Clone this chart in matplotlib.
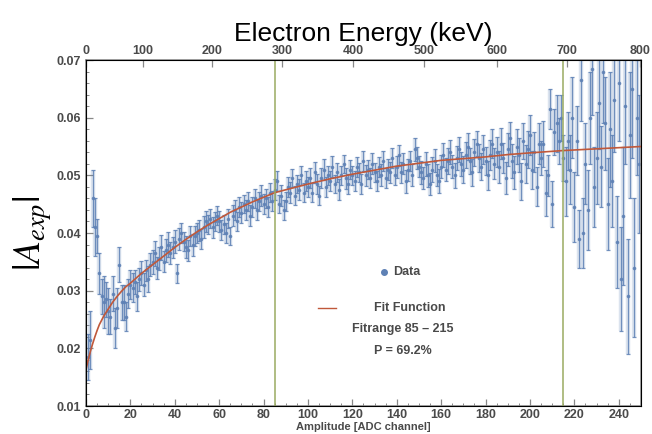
import numpy as np
import matplotlib
matplotlib.use("Agg")
import matplotlib.pyplot as plt

plt.rcParams['font.family'] = ['Liberation Sans', 'DejaVu Sans']
plt.rcParams['mathtext.fontset'] = 'stix'

# ---- data: asymmetry per ADC channel ----
channels = np.arange(1, 250)

asym = [
    0.0185, 0.0215, 0.0460, 0.0410, 0.0395, 0.0330, 0.0290, 0.0280, 0.0285, 0.0265,
    0.0255, 0.0295, 0.0235, 0.0270, 0.0345, 0.0280, 0.0280, 0.0255, 0.0295, 0.0310,
    0.0305, 0.0315, 0.0290, 0.0320, 0.0330, 0.0310, 0.0335, 0.0320, 0.0345, 0.0350,
    0.0365, 0.0340, 0.0355, 0.0375, 0.0350, 0.0370, 0.0380, 0.0365, 0.0375, 0.0385,
    0.0330, 0.0390, 0.0400, 0.0385, 0.0375, 0.0370, 0.0395, 0.0380, 0.0395, 0.0400,
    0.0405, 0.0390, 0.0410, 0.0420, 0.0415, 0.0425, 0.0410, 0.0420, 0.0430, 0.0420,
    0.0405, 0.0415, 0.0400, 0.0425, 0.0395, 0.0430, 0.0440, 0.0420, 0.0445, 0.0435,
    0.0450, 0.0440, 0.0455, 0.0430, 0.0445, 0.0460, 0.0440, 0.0455, 0.0465, 0.0450,
    0.0460, 0.0445, 0.0470, 0.0455, 0.0475, 0.0490, 0.0450, 0.0465, 0.0440, 0.0455,
    0.0480, 0.0470, 0.0495, 0.0465, 0.0485, 0.0475, 0.0500, 0.0470, 0.0490, 0.0480,
    0.0495, 0.0470, 0.0505, 0.0485, 0.0465, 0.0495, 0.0510, 0.0480, 0.0500, 0.0490,
    0.0515, 0.0485, 0.0505, 0.0475, 0.0500, 0.0520, 0.0495, 0.0485, 0.0510, 0.0500,
    0.0490, 0.0515, 0.0505, 0.0485, 0.0525, 0.0500, 0.0510, 0.0495, 0.0520, 0.0505,
    0.0490, 0.0515, 0.0500, 0.0525, 0.0495, 0.0510, 0.0505, 0.0530, 0.0500, 0.0515,
    0.0535, 0.0505, 0.0520, 0.0490, 0.0510, 0.0525, 0.0500, 0.0545, 0.0530, 0.0515,
    0.0505, 0.0495, 0.0520, 0.0500, 0.0485, 0.0510, 0.0525, 0.0500, 0.0490, 0.0515,
    0.0535, 0.0510, 0.0525, 0.0540, 0.0515, 0.0500, 0.0530, 0.0545, 0.0520, 0.0510,
    0.0535, 0.0550, 0.0525, 0.0505, 0.0540, 0.0555, 0.0530, 0.0515, 0.0545, 0.0525,
    0.0500, 0.0535, 0.0555, 0.0520, 0.0540, 0.0515, 0.0555, 0.0530, 0.0495, 0.0545,
    0.0565, 0.0525, 0.0505, 0.0550, 0.0535, 0.0490, 0.0560, 0.0520, 0.0545, 0.0570,
    0.0510, 0.0540, 0.0480, 0.0555, 0.0530, 0.0555, 0.0470, 0.0500, 0.0615, 0.0450,
    0.0575, 0.0590, 0.0560, 0.0600, 0.0530, 0.0490, 0.0560, 0.0510, 0.0600, 0.0445,
    0.0560, 0.0390, 0.0665, 0.0400, 0.0520, 0.0440, 0.0600, 0.0685, 0.0480, 0.0530,
    0.0625, 0.0515, 0.0680, 0.0590, 0.0450, 0.0580, 0.0490, 0.0630, 0.0385, 0.0660,
    0.0320, 0.0430, 0.0620, 0.0290, 0.0570, 0.0650, 0.0340, 0.0600, 0.0520,
]

asym_err = [
    0.0040, 0.0050, 0.0050, 0.0050, 0.0030, 0.0035, 0.0030, 0.0045, 0.0030, 0.0040,
    0.0030, 0.0030, 0.0035, 0.0035, 0.0030, 0.0030, 0.0030, 0.0025, 0.0025, 0.0025,
    0.0025, 0.0020, 0.0025, 0.0020, 0.0021, 0.0020, 0.0019, 0.0022, 0.0020, 0.0021,
    0.0022, 0.0019, 0.0020, 0.0021, 0.0018, 0.0020, 0.0022, 0.0019, 0.0018, 0.0020,
    0.0016, 0.0019, 0.0018, 0.0017, 0.0019, 0.0018, 0.0017, 0.0019, 0.0018, 0.0017,
    0.0018, 0.0017, 0.0019, 0.0018, 0.0016, 0.0017, 0.0018, 0.0017, 0.0016, 0.0018,
    0.0017, 0.0016, 0.0018, 0.0017, 0.0016, 0.0018, 0.0017, 0.0016, 0.0017, 0.0018,
    0.0016, 0.0017, 0.0016, 0.0018, 0.0017, 0.0016, 0.0017, 0.0016, 0.0018, 0.0017,
    0.0016, 0.0017, 0.0016, 0.0017, 0.0018, 0.0017, 0.0016, 0.0018, 0.0017, 0.0016,
    0.0017, 0.0018, 0.0016, 0.0017, 0.0016, 0.0018, 0.0017, 0.0016, 0.0017, 0.0018,
    0.0017, 0.0016, 0.0018, 0.0017, 0.0016, 0.0017, 0.0018, 0.0017, 0.0016, 0.0017,
    0.0018, 0.0016, 0.0017, 0.0018, 0.0017, 0.0016, 0.0018, 0.0017, 0.0016, 0.0017,
    0.0018, 0.0017, 0.0016, 0.0018, 0.0017, 0.0018, 0.0016, 0.0017, 0.0018, 0.0017,
    0.0018, 0.0017, 0.0019, 0.0018, 0.0017, 0.0018, 0.0019, 0.0018, 0.0017, 0.0019,
    0.0018, 0.0019, 0.0018, 0.0020, 0.0019, 0.0018, 0.0019, 0.0020, 0.0019, 0.0018,
    0.0020, 0.0019, 0.0021, 0.0020, 0.0019, 0.0021, 0.0020, 0.0019, 0.0021, 0.0020,
    0.0021, 0.0020, 0.0022, 0.0021, 0.0020, 0.0022, 0.0021, 0.0022, 0.0021, 0.0023,
    0.0022, 0.0023, 0.0022, 0.0024, 0.0023, 0.0022, 0.0024, 0.0023, 0.0025, 0.0024,
    0.0025, 0.0026, 0.0025, 0.0027, 0.0026, 0.0028, 0.0027, 0.0026, 0.0028, 0.0029,
    0.0028, 0.0030, 0.0029, 0.0031, 0.0030, 0.0032, 0.0031, 0.0033, 0.0032, 0.0034,
    0.0033, 0.0035, 0.0034, 0.0036, 0.0030, 0.0040, 0.0040, 0.0035, 0.0035, 0.0040,
    0.0040, 0.0050, 0.0040, 0.0040, 0.0040, 0.0060, 0.0050, 0.0060, 0.0070, 0.0060,
    0.0060, 0.0050, 0.0070, 0.0060, 0.0070, 0.0070, 0.0080, 0.0080, 0.0070, 0.0080,
    0.0080, 0.0070, 0.0090, 0.0080, 0.0080, 0.0100, 0.0080, 0.0090, 0.0080, 0.0100,
    0.0090, 0.0120, 0.0100, 0.0100, 0.0110, 0.0120, 0.0120, 0.0100, 0.0120,
]

# fit curve
fit_x = [0, 1, 2, 3, 4, 5, 6, 8, 10, 12, 14, 16, 18, 20, 25, 30, 35, 40, 45, 50,
         55, 60, 65, 70, 75, 80, 85, 90, 95, 100, 110, 120, 130, 140, 150, 160,
         170, 180, 190, 200, 215, 230, 250]
fit_y = [0.0163, 0.0180, 0.0195, 0.0208, 0.0220, 0.0231, 0.0241, 0.0256, 0.0268,
         0.0280, 0.0290, 0.0299, 0.0307, 0.0313, 0.0330, 0.0345, 0.0360, 0.0375,
         0.0389, 0.0402, 0.0414, 0.0425, 0.0436, 0.0445, 0.0454, 0.0462, 0.0470,
         0.0475, 0.0480, 0.0485, 0.0494, 0.0502, 0.0509, 0.0516, 0.0521, 0.0526,
         0.0529, 0.0532, 0.0536, 0.0539, 0.0543, 0.0546, 0.0550]

fit_range = [85, 215]

# top axis: electron energy ticks and their ADC positions
energy_labels = [0, 100, 200, 300, 400, 500, 600, 700, 800]
energy_pos = [0, 25.7, 56.9, 88.4, 120.4, 152.3, 185.2, 216.7, 249.5]

blue = '#5e81b5'
tick_color = '#4a4a4a'

fig = plt.figure(figsize=(6.52, 4.34), dpi=100)
ax = fig.add_axes([0.1319, 0.0645, 0.8512, 0.7972])

# light wide error bands + thin bars with caps
ax.errorbar(channels, asym, yerr=asym_err, fmt='none', ecolor=blue,
            elinewidth=3.2, alpha=0.22, capsize=0)
ax.errorbar(channels, asym, yerr=asym_err, fmt='o', color=blue, ms=1.6,
            ecolor=blue, elinewidth=0.9, capsize=1.6, capthick=0.9, alpha=0.85)

ax.plot(fit_x, fit_y, color='#c0583a', lw=1.2, zorder=5)

for x in fit_range:
    ax.axvline(x, color='#9aab62', lw=1.1, zorder=6)

ax.set_xlim(0, 250)
ax.set_ylim(0.01, 0.07)
ax.set_xticks(np.arange(0, 250, 20))
ax.set_xticks(np.arange(0, 251, 5), minor=True)
ax.set_yticks(np.arange(0.01, 0.0701, 0.01))
ax.set_yticks(np.arange(0.01, 0.0701, 0.002), minor=True)
ax.set_yticklabels([f'{v:.2f}' for v in np.arange(0.01, 0.0701, 0.01)])

ax.tick_params(which='both', direction='in', colors='#888888',
               labelcolor=tick_color, labelsize=9, right=False)
ax.tick_params(which='major', length=5, width=0.9)
ax.tick_params(which='minor', length=2.5, width=0.7)
ax.tick_params(axis='x', pad=2)
for lab in ax.get_xticklabels() + ax.get_yticklabels():
    lab.set_fontweight('bold')
for sp in ax.spines.values():
    sp.set_color('#8c8c8c')
    sp.set_linewidth(1.1)

ax.set_xlabel('Amplitude [ADC channel]', fontsize=8, color=tick_color,
              fontweight='bold', labelpad=1)
ax.set_ylabel(r'$|A_{exp}|$', fontsize=27, color='black', labelpad=2)

# secondary axis for electron energy
top = ax.twiny()
top.set_xlim(ax.get_xlim())
top.set_xticks(energy_pos)
top.set_xticklabels([str(e) for e in energy_labels])
top.tick_params(direction='in', length=5, width=0.9, colors='#888888',
                labelcolor=tick_color, labelsize=9, pad=2)
for lab in top.get_xticklabels():
    lab.set_fontweight('bold')
top.set_xlabel('Electron Energy (keV)', fontsize=19, color='black', labelpad=3)

# legend drawn by hand
ax.plot([0.537], [0.387], 'o', color=blue, ms=4, transform=ax.transAxes)
ax.text(0.553, 0.387, 'Data', transform=ax.transAxes, fontsize=9,
        color=tick_color, fontweight='bold', va='center')
ax.plot([0.418, 0.450], [0.284, 0.284], color='#c0583a', lw=1.0,
        transform=ax.transAxes)
ax.text(0.584, 0.284, 'Fit Function', transform=ax.transAxes, fontsize=9,
        color=tick_color, fontweight='bold', va='center', ha='center')
ax.text(0.571, 0.223, 'Fitrange 85 \u2013 215', transform=ax.transAxes, fontsize=9,
        color=tick_color, fontweight='bold', va='center', ha='center')
ax.text(0.571, 0.160, 'P = 69.2%', transform=ax.transAxes, fontsize=9,
        color=tick_color, fontweight='bold', va='center', ha='center')

fig.savefig('out.png', dpi=100)
